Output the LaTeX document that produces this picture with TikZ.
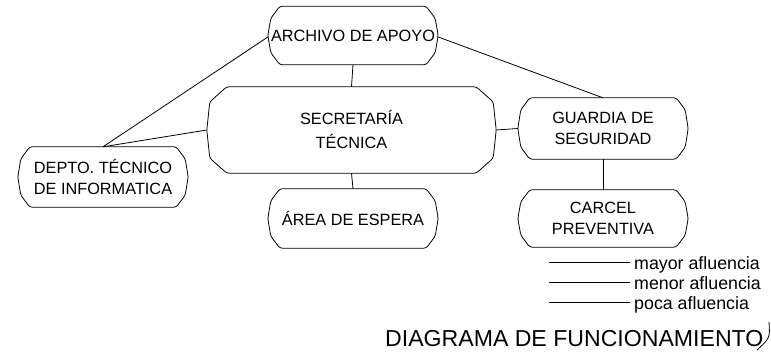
\documentclass[tikz,border=0pt]{standalone}
\usepackage{fontspec}
\setmainfont{Liberation Sans}
\tikzset{
  boxline/.style={line width=0.8pt, rounded corners=2.5pt},
  conn/.style={line width=0.8pt},
  box/.style={draw=none, align=center, inner sep=0pt, font=\fontsize{16.3}{21}\selectfont},
  legline/.style={line width=0.8pt},
  legtext/.style={anchor=base west, inner sep=0pt, font=\fontsize{17.8}{20}\selectfont},
}
\newcommand\octo[3]{%
  \draw[boxline] ([xshift=#2]#1.north west) -- ([xshift=-#2]#1.north east)
    -- ([xshift=-3pt,yshift=-#3]#1.north east) -- (#1.east)
    -- ([xshift=-3pt,yshift=#3]#1.south east) -- ([xshift=-#2]#1.south east)
    -- ([xshift=#2]#1.south west) -- ([xshift=3pt,yshift=#3]#1.south west)
    -- (#1.west) -- ([xshift=3pt,yshift=-#3]#1.north west) -- cycle;}
\begin{document}
\begin{tikzpicture}[x=1pt,y=-1pt]
\useasboundingbox (0,0) rectangle (771,354);
\node[box, minimum width=170pt, minimum height=58pt] (arch) at (353,35.5) {ARCHIVO DE APOYO};
\node[box, minimum width=289pt, minimum height=86pt, font=\fontsize{16.3}{24}\selectfont] (sec) at (351.5,130) {SECRETARÍA\\TÉCNICA};
\node[box, minimum width=170pt, minimum height=60pt] (depto) at (103,177) {DEPTO. TÉCNICO\\DE INFORMATICA};
\node[box, minimum width=170pt, minimum height=59pt] (area) at (353,218.5) {ÁREA DE ESPERA};
\node[box, minimum width=170pt, minimum height=61pt] (guard) at (603,128.5) {GUARDIA DE\\SEGURIDAD};
\node[box, minimum width=170pt, minimum height=57pt] (carcel) at (603,218.5) {CARCEL\\PREVENTIVA};
\octo{arch}{12pt}{12pt}
\octo{sec}{20pt}{15pt}
\octo{depto}{12pt}{12pt}
\octo{area}{12pt}{12pt}
\octo{guard}{12pt}{12pt}
\octo{carcel}{12pt}{12pt}
\draw[conn] (arch.south) -- (sec.north);
\draw[conn] (sec.south) -- (area.north);
\draw[conn] ([yshift=-1.5pt]arch.west) -- (depto.north);
\draw[conn] (sec.west) -- (depto.north);
\draw[conn] ([yshift=-1.5pt]arch.east) -- (guard.north);
\draw[conn] (sec.east) -- (guard.west);
\draw[conn] (guard.south) -- (carcel.north);
% legend
\coordinate (l1a) at (549,262); \coordinate (l1b) at (630,262);
\coordinate (l2a) at (549,282); \coordinate (l2b) at (630,282);
\coordinate (l3a) at (549,302); \coordinate (l3b) at (630,302);
\draw[legline] (l1a) -- (l1b);
\draw[legline] (l2a) -- (l2b);
\draw[legline] (l3a) -- (l3b);
\node[legtext] (t1) at (634,269) {mayor afluencia};
\node[legtext] (t2) at (634,289) {menor afluencia};
\node[legtext] (t3) at (634,309) {poca afluencia};
\node[anchor=base west, inner sep=0pt, font=\fontsize{23.1}{26}\selectfont] (title) at (385,346) {DIAGRAMA DE FUNCIONAMIENTO};
\coordinate (m1) at (769,322);
\coordinate (m2) at (757,350);
\draw[conn] (m1) .. controls (770,338) .. (m2);
\end{tikzpicture}
\end{document}
